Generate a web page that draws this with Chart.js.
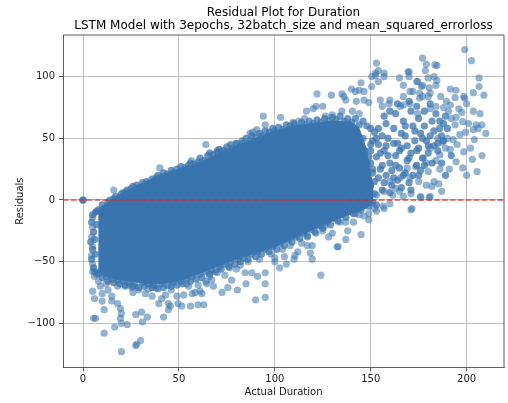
<!DOCTYPE html>
<html>
<head>
<meta charset="utf-8">
<script src="https://cdn.jsdelivr.net/npm/chart.js@4.4.1/dist/chart.umd.min.js"></script>
<style>
  html, body { margin: 0; padding: 0; background: #fff; }
  #wrap { width: 508px; height: 403px; position: relative; }
</style>
</head>
<body>
<div id="wrap"><canvas id="myChart"></canvas></div>
<script>
const titleLines = [
  'Residual Plot for Duration',
  'LSTM Model with 3epochs, 32batch_size and mean_squared_errorloss'
];
const xLabel = 'Actual Duration';
const yLabel = 'Residuals';

// axis limits
const xMin = -10.45, xMax = 219.5;
const yMin = -135.7, yMax = 133.8;

// the (0, 0) point, drawn a few times over
const zeroPoints = [[0, 0], [0, 0], [0, 0]];

// outline of the solid, saturated core of the cloud
const coreX      = [8, 12, 16, 20, 25, 30, 40, 50, 60, 70, 80, 90, 100, 110, 120, 130, 140, 144, 148, 151];
const coreTop    = [-8, -3, 1, 5, 9, 13, 20, 25, 30, 37, 44, 50, 56, 60, 62, 64, 63, 58, 40, 12];
const coreBottom = [-58, -62, -64, -65, -66, -67, -68, -66, -60, -54, -48, -43, -38, -31, -24, -17, -11, -9, -6, -3];

// bumpy upper edge of the core
const topEdge = [
  [8, -8], [10, -4], [11, -7], [13, -2], [14, 0], [16, 1], [17, 3], [19, 2], [20, 5], [22, 6],
  [23, 8], [25, 9], [26, 11], [28, 12], [29, 10], [31, 14], [33, 15], [34, 13], [36, 17], [38, 18],
  [39, 20], [41, 19], [42, 22], [44, 21], [46, 24], [47, 22], [49, 25], [51, 27], [53, 26], [55, 28],
  [56, 30], [58, 29], [60, 31], [61, 34], [63, 32], [65, 36], [66, 38], [68, 37], [70, 39], [71, 41],
  [73, 40], [75, 43], [77, 45], [78, 42], [80, 46], [82, 44], [83, 48], [85, 50], [87, 48], [88, 52],
  [90, 51], [92, 54], [93, 52], [95, 56], [97, 55], [99, 58], [100, 56], [102, 59], [104, 57], [106, 61],
  [108, 60], [110, 62], [112, 59], [114, 63], [116, 61], [118, 64], [120, 62], [122, 65], [124, 63], [126, 66],
  [128, 64], [130, 67], [132, 65], [134, 68], [136, 64], [138, 66], [140, 63], [142, 66], [144, 61], [146, 64],
  [148, 60], [150, 58]
];

// bumpy lower edge of the core
const bottomEdge = [
  [8, -60], [9, -58], [10, -63], [12, -62], [13, -66], [15, -64], [16, -67], [18, -65], [19, -68], [21, -66],
  [22, -69], [24, -67], [26, -70], [27, -68], [29, -71], [31, -67], [32, -70], [34, -68], [36, -71], [37, -69],
  [39, -72], [41, -68], [42, -71], [44, -69], [46, -70], [47, -67], [49, -69], [51, -66], [52, -68], [54, -64],
  [56, -66], [57, -62], [59, -64], [61, -60], [62, -63], [64, -58], [66, -60], [67, -57], [69, -58], [71, -54],
  [72, -56], [74, -52], [76, -54], [77, -50], [79, -52], [81, -48], [82, -50], [84, -47], [86, -48], [88, -44],
  [90, -46], [91, -42], [93, -44], [95, -40], [97, -42], [99, -38], [101, -40], [103, -35], [105, -37], [107, -32],
  [109, -34], [111, -30], [113, -31], [115, -27], [117, -29], [119, -24], [121, -26], [123, -21], [125, -23], [127, -18],
  [129, -20], [131, -15], [133, -17], [135, -12], [137, -14], [139, -9], [141, -11], [143, -6], [145, -8], [147, -4],
  [149, -5], [151, -2], [153, -4]
];

// ragged left edge of the core
const leftEdge = [
  [5, -12], [4.5, -18], [5.5, -26], [4, -34], [5, -40], [4.5, -48], [5.5, -55], [6, -58], [6.5, -10], [7, -20],
  [6, -32], [6.5, -44]
];

// points below the core
const lowerPoints = [
  [5, -14], [7, -9], [5, -22], [4.5, -30], [5, -38], [4.5, -45], [5, -52], [5, -58], [6, -62], [7, -60],
  [8, -66], [9, -70], [5, -74], [6, -80], [5.5, -96], [6.5, -96], [10, -76], [11, -89], [10, -82], [11, -108],
  [15, -78], [15, -82], [16.5, -103], [18, -84], [19.5, -88], [20, -92], [19.5, -96], [20, -100], [23, -101], [20, -123],
  [27.5, -118], [30, -114], [28, -117], [27.5, -93], [31, -99], [30.5, -91], [33.5, -95], [42, -95], [22, -70], [25.5, -71],
  [29, -73], [32.5, -76], [36, -78], [39.5, -84], [41, -80], [44.5, -84], [44.5, -89], [45.5, -86], [49.5, -84], [51.5, -86],
  [56, -86], [60, -85], [63, -85], [54, -68], [57, -76], [58.5, -75], [62, -76], [64.5, -68], [67, -65], [49, -78],
  [52.5, -77], [61, -74], [64, -66], [72.5, -75], [75.5, -71], [80.5, -73], [85, -68], [90, -81], [95, -79], [95, -68],
  [95, -59], [91, -62], [88, -59], [84.5, -59], [77.5, -65], [76.5, -55], [82, -53], [124, -61], [102.5, -55], [100, -47],
  [105, -46], [110, -48], [110.5, -45], [112, -42], [117, -37], [119.5, -37], [118.5, -43], [119.5, -48], [117, -30], [121.5, -27],
  [125, -25], [130, -27], [133, -38], [138, -25], [137, -32], [145, -28], [141, -18], [149, -16], [149, -11], [146.5, -13],
  [142, -11], [153, -9], [156.5, -5], [160, -3], [171, -8], [132.5, -38], [137, -18],
  [12, -68], [18, -70], [24, -69], [34, -72], [38, -71], [46, -73], [55, -70], [66, -62], [70, -59], [74, -61],
  [86, -50], [92, -48], [98, -44], [104, -40], [108, -37], [114, -35], [126, -21], [134, -18], [144, -12], [152, -7],
  [13, -73], [26, -75], [35, -66], [43, -77], [60, -69], [68, -70], [80, -56], [100, -50], [106, -52], [128, -30]
];

// points above the core
const upperPoints = [
  [16, 8], [21, 6], [40, 26], [56.5, 32], [60, 28], [64.5, 28], [64, 45], [70, 40], [74.5, 40], [80, 46],
  [83.5, 46], [94, 68], [95, 61], [90.5, 57], [87, 54], [88.5, 55], [103, 67], [112.5, 64], [115.5, 66], [109.5, 63],
  [126.5, 68], [130, 69], [135, 72], [140.5, 72], [144, 70], [133.5, 57], [125, 76], [121.5, 76], [116.5, 72], [120, 74],
  [122, 86], [129.5, 85], [135, 86], [136, 84], [137, 81], [142.5, 80], [146.5, 81], [149, 79], [140, 90], [144, 89],
  [142, 88], [146.5, 88], [145, 95], [150.5, 92], [154, 96], [150.5, 100], [152.5, 101], [153, 111], [157, 103], [152.5, 103]
];

// sparse right-hand tail, x above 150
const tailPoints = [
  [199, 122], [202.5, 113], [177, 115], [179, 110], [178.5, 105], [184.5, 109], [154, 105], [157, 100], [165, 99], [170, 104],
  [170, 100], [167, 93], [174.5, 96], [177, 93], [180, 99], [183, 100], [184, 93], [206.5, 99], [206.5, 92], [203.5, 87],
  [209, 85], [198.5, 84], [199, 82.5], [194.5, 89], [191.5, 90], [194, 83], [170.5, 88], [172, 88], [175.5, 82.5], [177, 84],
  [180.5, 91], [180, 84], [186.5, 84], [189.5, 80], [191.5, 77], [188, 75], [190.5, 72], [184, 76], [181, 74], [174.5, 70],
  [170.5, 78], [167, 77], [165.5, 76], [160, 81], [159.5, 78], [156, 76], [155, 81], [203.5, 72], [207, 70], [208, 61],
  [205, 61], [210, 54], [206, 58], [203.5, 57], [197.5, 71], [198, 63.5], [194.5, 67], [194, 61], [199.5, 55], [196.5, 53],
  [193, 49], [190, 50], [187.5, 47], [185, 50], [204, 49], [208, 36], [203, 33], [205.5, 23], [200, 20], [198.5, 39],
  [198, 26], [194.5, 31], [191, 25], [186, 25], [187, 7], [185.5, 13], [180.5, 2], [176, 2], [171.5, -7], [161.5, 4],
  [157, -7], [191.5, 41], [189, 42], [186, 36.5], [184, 32], [181, 42], [179, 30], [180, 23], [177.5, 34], [173.5, 27],
  [170.5, 18], [175, 15], [179, 12], [182, 11], [183, 15], [169, 26], [165.5, 18], [163, 9.5], [160, 15], [157, 7],
  [153, 4], [165, 7], [169.5, 104], [174, 96], [183.5, 109.5], [176.5, 92], [175.5, 86.5], [167, 84], [181, 86.5], [184.5, 97],
  [167, 3], [171, 5], [176, 3], [181, 3], [192, 66], [196, 74], [200, 78], [195, 45], [201, 62], [202, 42]
];

// the busy strip just right of the core
const tailDense = [
  [152, 55], [154, 45], [153, 35], [155, 25], [152, 15], [156, 8], [158, 62], [159, 50], [157, 40], [160, 30],
  [158, 20], [161, 12], [163, 70], [162, 58], [164, 46], [163, 36], [165, 26], [162, 18], [166, 10], [167, 64],
  [168, 52], [166, 42], [169, 32], [168, 22], [170, 14], [171, 72], [172, 60], [173, 48], [171, 38], [174, 28],
  [172, 20], [175, 66], [176, 54], [175, 42], [177, 34], [176, 24], [178, 60], [179, 48], [180, 38], [181, 52],
  [183, 44], [182, 64], [184, 70], [186, 58], [185, 46], [188, 62], [187, 52], [189, 68], [150, 40], [150, 30],
  [151, 22], [151, 48], [154, 58], [157, 68], [160, 72], [164, 78], [170, 80], [174, 76], [178, 72], [181, 78],
  [146, 50], [147, 40], [148, 30], [147, 20], [146, 10], [148, 2], [150, 45], [149, 35], [151, 25], [150, 12],
  [152, 5], [153, 50], [155, 38], [154, 18], [156, 28], [156, 52], [158, 44], [157, 14], [159, 36], [161, 24],
  [160, 6], [162, 46], [163, 28], [164, 16], [165, 40], [166, 54], [167, 20], [169, 44], [168, 60], [170, 34],
  [171, 8], [173, 56], [174, 40], [175, 20], [177, 50], [178, 28], [180, 44], [182, 30], [183, 56], [185, 40],
  [186, 64], [187, 30], [188, 48], [190, 58], [192, 36], [189, 20]
];

const dotColor = 'rgba(58, 116, 175, 0.55)';
const edgeColor = 'rgba(58, 116, 175, 0.75)';
const coreColor = 'rgb(58, 116, 175)';

const toXY = pairs => pairs.map(([x, y]) => ({ x, y }));
const looseDots = [].concat(zeroPoints, lowerPoints, upperPoints, tailPoints);
const edgeDots = [].concat(leftEdge, topEdge, bottomEdge, tailDense);

// closed outline: along the top left to right, back along the bottom
const coreOutline = coreX.map((x, i) => ({ x, y: coreTop[i] }))
  .concat(coreX.map((x, i) => ({ x, y: coreBottom[i] })).reverse());

Chart.defaults.font.family = '"DejaVu Sans", sans-serif';
Chart.defaults.color = '#222';

const minus = v => String(v).replace('-', '\u2212');

const frameAndTitle = {
  id: 'frameAndTitle',
  afterDraw(chart) {
    const { ctx, chartArea } = chart;
    const cx = (chartArea.left + chartArea.right) / 2;
    ctx.save();
    ctx.strokeStyle = '#333';
    ctx.lineWidth = 0.8;
    ctx.beginPath();
    ctx.moveTo(chartArea.left, chartArea.top);
    ctx.lineTo(chartArea.right, chartArea.top);
    ctx.lineTo(chartArea.right, chartArea.bottom);
    ctx.stroke();
    ctx.fillStyle = '#000';
    ctx.font = '12px "DejaVu Sans"';
    ctx.textAlign = 'center';
    ctx.textBaseline = 'middle';
    ctx.fillText(titleLines[0], cx, 12.5);
    ctx.fillText(titleLines[1], cx, 26);
    ctx.restore();
  }
};

// datasets listed first are painted last (on top)
new Chart(document.getElementById('myChart'), {
  type: 'scatter',
  data: {
    datasets: [
      {
        type: 'line',
        data: [{ x: xMin, y: 0 }, { x: xMax, y: 0 }],
        borderColor: 'rgba(245, 30, 20, 0.8)',
        borderWidth: 1.5,
        borderDash: [5.5, 2.4],
        pointRadius: 0,
        fill: false
      },
      {
        type: 'line',
        data: coreOutline,
        borderColor: coreColor,
        borderWidth: 1,
        backgroundColor: coreColor,
        pointRadius: 0,
        tension: 0,
        fill: 'shape'
      },
      {
        data: toXY(looseDots),
        backgroundColor: dotColor,
        borderWidth: 0,
        pointRadius: 3.6
      },
      {
        data: toXY(edgeDots),
        backgroundColor: edgeColor,
        borderWidth: 0,
        pointRadius: 3.6
      }
    ]
  },
  options: {
    responsive: true,
    maintainAspectRatio: false,
    animation: false,
    events: [],
    layout: { padding: { top: 35, left: 0, right: 0, bottom: 0 } },
    plugins: {
      legend: { display: false },
      title: { display: false },
      tooltip: { enabled: false }
    },
    scales: {
      x: {
        type: 'linear',
        min: xMin,
        max: xMax,
        z: 1,
        afterFit: s => { s.height = 35.7; },
        ticks: {
          stepSize: 50,
          includeBounds: false,
          padding: 2,
          font: { size: 10 },
          color: '#222',
          callback: v => minus(v)
        },
        grid: { color: '#b0b0b0', lineWidth: 0.8, tickLength: 4, tickColor: '#333', tickWidth: 0.8 },
        border: { color: '#333', width: 0.8 },
        title: { display: true, text: xLabel, font: { size: 10 }, color: '#222', padding: { top: 0, bottom: 5 } }
      },
      y: {
        type: 'linear',
        min: yMin,
        max: yMax,
        z: 1,
        afterFit: s => { s.width = 63; },
        ticks: {
          stepSize: 50,
          includeBounds: false,
          padding: 4,
          font: { size: 10 },
          color: '#222',
          callback: v => minus(v)
        },
        grid: { color: '#b0b0b0', lineWidth: 0.8, tickLength: 4, tickColor: '#333', tickWidth: 0.8 },
        border: { color: '#333', width: 0.8 },
        title: { display: true, text: yLabel, font: { size: 10 }, color: '#222', padding: { top: 14, bottom: 0 } }
      }
    }
  },
  plugins: [frameAndTitle]
});
</script>
</body>
</html>
